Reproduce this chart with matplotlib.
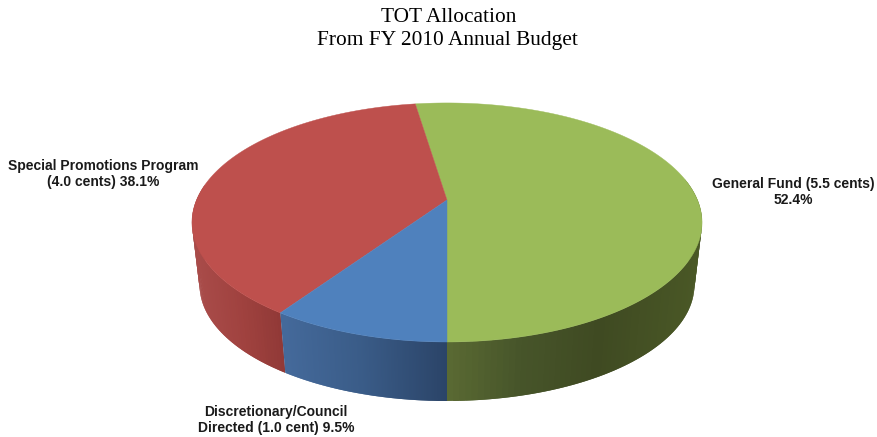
import matplotlib
matplotlib.use("Agg")
import matplotlib.pyplot as plt
import numpy as np
from matplotlib.colors import to_rgb
from matplotlib.patches import Polygon, Rectangle

# Budget shares in percent, listed counter-clockwise from the front of the pie
slice_names = ["General Fund", "Special Promotions", "Discretionary"]
shares = [52.4, 38.1, 9.5]
top_colors = ["#9bbb59", "#be504d", "#4f81bd"]

# Side wall shading, colour stops along the horizontal position
wall_stops_x = [[447, 520, 600, 703], [193, 240, 285], [285, 360, 447]]
wall_stops_c = [
    ["#5a6a33", "#47552a", "#3f4a22", "#4a5826"],
    ["#a94c4a", "#a0423f", "#8f3836"],
    ["#44699a", "#3a5c88", "#2b4468"],
]

title_lines = ["TOT Allocation", "From FY 2010 Annual Budget"]
labels = [
    "General Fund (5.5 cents)\n52.4%",
    "Special Promotions Program\n(4.0 cents) 38.1%",
    "Discretionary/Council\nDirected (1.0 cent) 9.5%",
]
label_x = [793, 103, 276]
label_y = [192, 174, 420]

W, H = 878, 437
cx = 447
persp = 0.188  # foreshortening of the far side of the disc


def project(theta, a, b, y0):
    # perspective view of a flat disc, theta in radians
    d = 1 + persp * np.sin(theta)
    return cx + a * np.cos(theta) / d, y0 - b * np.sin(theta) / d


def top_face(theta):
    return project(theta, 250.5, 115.3, 200)


def bottom_face(theta):
    return project(theta, 243, 111.8, 263.3)


fig = plt.figure(figsize=(W / 100, H / 100), dpi=100)
ax = fig.add_axes([0, 0, 1, 1])
ax.set_xlim(0, W)
ax.set_ylim(H, 0)
ax.axis("off")

edges = np.radians(-90 + np.cumsum([0] + shares) * 3.6)

# side walls first, thin overlapping strips for the shading
for i in range(len(shares)):
    t = np.linspace(edges[i], edges[i + 1], 160)
    x1, y1 = top_face(t)
    x2, y2 = bottom_face(t)
    stops = np.array([to_rgb(c) for c in wall_stops_c[i]])
    for j in range(len(t) - 1):
        if np.sin(t[j]) > 0.15:
            continue
        k = min(j + 2, len(t) - 1)
        xm = (x1[j] + x1[j + 1]) / 2
        col = [np.interp(xm, wall_stops_x[i], stops[:, n]) for n in range(3)]
        quad = [(x1[j], y1[j]), (x1[k], y1[k]), (x2[k], y2[k]), (x2[j], y2[j])]
        ax.add_patch(Polygon(quad, closed=True, facecolor=col, edgecolor="none", zorder=2))

# top face
for i in range(len(shares)):
    t = np.linspace(edges[i], edges[i + 1], 240)
    x1, y1 = top_face(t)
    pts = [(cx, 200)] + list(zip(x1, y1))
    ax.add_patch(Polygon(pts, closed=True, facecolor=top_colors[i], edgecolor=top_colors[i], linewidth=0.3, zorder=3))

for txt, x, y in zip(labels, label_x, label_y):
    ax.text(x, y, txt, ha="center", va="center", fontsize=10, fontweight="bold",
            family="Liberation Sans", color="#1a1a1a", linespacing=1.2, zorder=4)

# second title line is cut off right under the text
clip = Rectangle((0, 0), W, 48, transform=ax.transData)
ax.text(449, 18, title_lines[0], ha="center", va="center", fontsize=15.4,
        family="Liberation Serif", color="black")
t2 = ax.text(447.5, 41, title_lines[1], ha="center", va="center", fontsize=15.4,
             family="Liberation Serif", color="black")
t2.set_clip_path(clip)

fig.savefig("out.png", dpi=100, facecolor="white")
